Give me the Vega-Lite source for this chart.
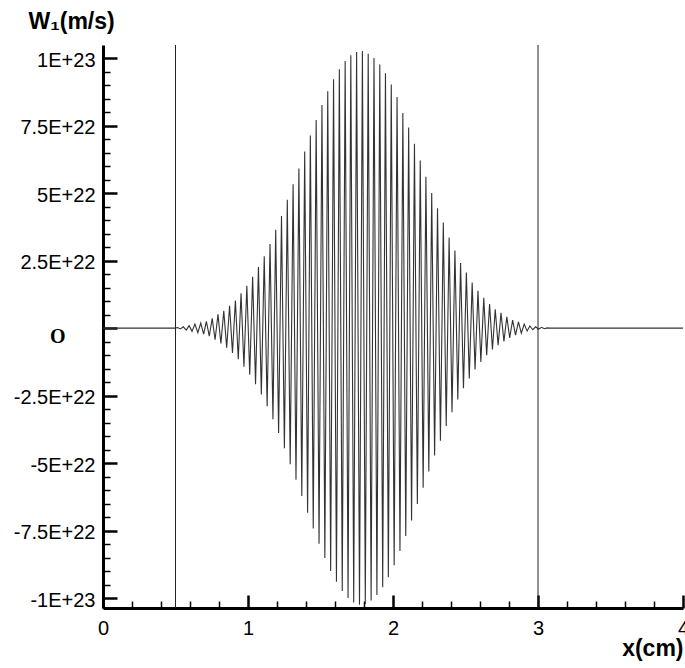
{
  "$schema": "https://vega.github.io/schema/vega-lite/v6.json",
  "autosize": "none",
  "width": 580,
  "height": 563,
  "padding": {"left": 103, "top": 45, "right": 2, "bottom": 60},
  "background": "white",
  "config": {"view": {"stroke": null}},
  "datasets": {
    "wave": [
      {"x":0,"w":0},{"x":0.5,"w":0},{"x":0.514,"w":2e20},{"x":0.534,"w":-3e20},
      {"x":0.554,"w":5e20},{"x":0.574,"w":-7e20},{"x":0.594,"w":9e20},{"x":0.614,"w":-1.2e21},
      {"x":0.634,"w":1.5e21},{"x":0.654,"w":-1.7e21},{"x":0.674,"w":1.9e21},{"x":0.694,"w":-2.2e21},
      {"x":0.713,"w":2.5e21},{"x":0.733,"w":-3.0e21},{"x":0.753,"w":3.6e21},{"x":0.773,"w":-4.3e21},
      {"x":0.793,"w":5.1e21},{"x":0.813,"w":-5.7e21},{"x":0.833,"w":6.4e21},{"x":0.853,"w":-7.3e21},
      {"x":0.873,"w":8.3e21},{"x":0.893,"w":-9.2e21},{"x":0.913,"w":1.02e22},{"x":0.933,"w":-1.15e22},
      {"x":0.952,"w":1.29e22},{"x":0.972,"w":-1.43e22},{"x":0.992,"w":1.57e22},{"x":1.012,"w":-1.73e22},
      {"x":1.032,"w":1.90e22},{"x":1.052,"w":-2.08e22},{"x":1.072,"w":2.26e22},{"x":1.092,"w":-2.46e22},
      {"x":1.112,"w":2.66e22},{"x":1.132,"w":-2.89e22},{"x":1.152,"w":3.12e22},{"x":1.172,"w":-3.38e22},
      {"x":1.191,"w":3.64e22},{"x":1.211,"w":-3.89e22},{"x":1.231,"w":4.15e22},{"x":1.251,"w":-4.45e22},
      {"x":1.271,"w":4.76e22},{"x":1.291,"w":-5.04e22},{"x":1.311,"w":5.33e22},{"x":1.331,"w":-5.62e22},
      {"x":1.351,"w":5.91e22},{"x":1.371,"w":-6.22e22},{"x":1.391,"w":6.54e22},{"x":1.411,"w":-6.84e22},
      {"x":1.430,"w":7.14e22},{"x":1.450,"w":-7.42e22},{"x":1.470,"w":7.71e22},{"x":1.490,"w":-7.99e22},
      {"x":1.510,"w":8.27e22},{"x":1.530,"w":-8.52e22},{"x":1.550,"w":8.78e22},{"x":1.570,"w":-9.00e22},
      {"x":1.590,"w":9.22e22},{"x":1.610,"w":-9.40e22},{"x":1.630,"w":9.59e22},{"x":1.650,"w":-9.74e22},
      {"x":1.670,"w":9.90e22},{"x":1.690,"w":-1.000e23},{"x":1.709,"w":1.011e23},{"x":1.729,"w":-1.017e23},
      {"x":1.749,"w":1.023e23},{"x":1.769,"w":-1.025e23},{"x":1.789,"w":1.027e23},{"x":1.809,"w":-1.022e23},
      {"x":1.829,"w":1.017e23},{"x":1.849,"w":-1.009e23},{"x":1.869,"w":1.001e23},{"x":1.889,"w":-9.89e22},
      {"x":1.909,"w":9.77e22},{"x":1.929,"w":-9.60e22},{"x":1.948,"w":9.44e22},{"x":1.968,"w":-9.23e22},
      {"x":1.988,"w":9.03e22},{"x":2.008,"w":-8.79e22},{"x":2.028,"w":8.56e22},{"x":2.048,"w":-8.26e22},
      {"x":2.068,"w":7.97e22},{"x":2.088,"w":-7.70e22},{"x":2.108,"w":7.43e22},{"x":2.128,"w":-7.13e22},
      {"x":2.148,"w":6.83e22},{"x":2.168,"w":-6.52e22},{"x":2.188,"w":6.21e22},{"x":2.208,"w":-5.91e22},
      {"x":2.227,"w":5.61e22},{"x":2.247,"w":-5.31e22},{"x":2.267,"w":5.01e22},{"x":2.287,"w":-4.72e22},
      {"x":2.307,"w":4.44e22},{"x":2.327,"w":-4.17e22},{"x":2.347,"w":3.91e22},{"x":2.367,"w":-3.63e22},
      {"x":2.387,"w":3.36e22},{"x":2.407,"w":-3.12e22},{"x":2.427,"w":2.88e22},{"x":2.447,"w":-2.64e22},
      {"x":2.466,"w":2.41e22},{"x":2.486,"w":-2.23e22},{"x":2.506,"w":2.06e22},{"x":2.526,"w":-1.87e22},
      {"x":2.546,"w":1.69e22},{"x":2.566,"w":-1.53e22},{"x":2.586,"w":1.38e22},{"x":2.606,"w":-1.25e22},
      {"x":2.626,"w":1.12e22},{"x":2.646,"w":-1.00e22},{"x":2.666,"w":8.9e21},{"x":2.686,"w":-7.9e21},
      {"x":2.705,"w":7.0e21},{"x":2.725,"w":-6.3e21},{"x":2.745,"w":5.7e21},{"x":2.765,"w":-4.9e21},
      {"x":2.785,"w":4.2e21},{"x":2.805,"w":-3.6e21},{"x":2.825,"w":3.0e21},{"x":2.845,"w":-2.6e21},
      {"x":2.865,"w":2.3e21},{"x":2.885,"w":-1.9e21},{"x":2.905,"w":1.5e21},{"x":2.925,"w":-1.1e21},
      {"x":2.944,"w":8e20},{"x":2.964,"w":-6e20},{"x":2.984,"w":5e20},{"x":3.004,"w":-4e20},
      {"x":3.024,"w":3e20},{"x":3.044,"w":-2e20},{"x":3.064,"w":1e20},{"x":3.08,"w":0},{"x":4,"w":0}
    ],
    "vlines": [{"x": 0.5}, {"x": 3}]
  },
  "resolve": {"axis": {"x": "independent", "y": "independent"}},
  "layer": [
    {
      "data": {"name": "wave"},
      "mark": {"type": "line", "color": "#333333", "strokeWidth": 1.1, "interpolate": "linear"},
      "encoding": {
        "x": {
          "field": "x", "type": "quantitative",
          "scale": {"domain": [0, 4], "nice": false, "zero": false},
          "axis": {
            "orient": "bottom",
            "values": [0, 1, 2, 3, 4],
            "grid": false,
            "domainColor": "black", "domainWidth": 3,
            "tickColor": "black", "tickWidth": 2.5, "tickSize": -13,
            "labelFont": "Liberation Sans", "labelFontSize": 20, "labelColor": "black",
            "labelPadding": 23, "labelFlush": false, "labelOverlap": false,
            "title": "x(cm)", "titleFont": "Liberation Sans", "titleFontWeight": "bold",
            "titleFontSize": 23, "titleColor": "black",
            "titleX": 580, "titleY": 47, "titleAlign": "right", "titleBaseline": "alphabetic", "titleAnchor": null
          }
        },
        "y": {
          "field": "w", "type": "quantitative",
          "scale": {"domain": [-1.037e23, 1.049e23], "nice": false, "zero": false},
          "axis": {
            "orient": "left",
            "values": [-1e23, -7.5e22, -5e22, -2.5e22, 0, 2.5e22, 5e22, 7.5e22, 1e23],
            "labelExpr": "datum.value == 0 ? 'O' : abs(datum.value) > 9.9e22 ? (datum.value < 0 ? '-1E+23' : '1E+23') : (round(datum.value / 1e21) / 10) + 'E+22'",
            "grid": false,
            "domainColor": "black", "domainWidth": 3,
            "tickColor": "black", "tickWidth": 2.5, "tickSize": -14,
            "labelFont": {"condition": {"test": "datum.value == 0", "value": "Liberation Serif"}, "value": "Liberation Sans"},
            "labelFontWeight": {"condition": {"test": "datum.value == 0", "value": "bold"}, "value": "normal"},
            "labelPadding": {"condition": {"test": "datum.value == 0", "value": 52}, "value": 22},
            "labelOffset": {"condition": {"test": "datum.value == 0", "value": 8}, "value": 2},
            "labelFontSize": 20, "labelColor": "black", "labelFlush": false, "labelOverlap": false,
            "title": "W₁(m/s)", "titleFont": "Liberation Sans", "titleFontWeight": "bold",
            "titleFontSize": 23, "titleColor": "black", "titleAngle": 0,
            "titleX": -75, "titleY": -17, "titleAlign": "left", "titleBaseline": "alphabetic", "titleAnchor": null
          }
        }
      }
    },
    {
      "mark": {"type": "rule", "color": "#333333", "strokeWidth": 1},
      "encoding": {
        "x": {
          "datum": 0, "type": "quantitative",
          "axis": {
            "orient": "bottom",
            "values": [0.2, 0.4, 0.6, 0.8, 1.2, 1.4, 1.6, 1.8, 2.2, 2.4, 2.6, 2.8, 3.2, 3.4, 3.6, 3.8],
            "grid": false, "domain": false, "labels": false, "title": null,
            "tickColor": "black", "tickWidth": 1.5, "tickSize": -7
          }
        },
        "x2": {"datum": 4},
        "y": {
          "datum": 0, "type": "quantitative",
          "axis": {
            "orient": "left",
            "values": [-9.5e22, -9e22, -8.5e22, -8e22, -7e22, -6.5e22, -6e22, -5.5e22, -4.5e22, -4e22, -3.5e22, -3e22, -2e22, -1.5e22, -1e22, -5e21, 5e21, 1e22, 1.5e22, 2e22, 3e22, 3.5e22, 4e22, 4.5e22, 5.5e22, 6e22, 6.5e22, 7e22, 8e22, 8.5e22, 9e22, 9.5e22],
            "grid": false, "domain": false, "labels": false, "title": null,
            "tickColor": "black", "tickWidth": 1.5, "tickSize": -7
          }
        }
      }
    },
    {
      "data": {"name": "vlines"},
      "mark": {"type": "rule", "color": "#222222", "strokeWidth": 1},
      "encoding": {
        "x": {"field": "x", "type": "quantitative", "axis": null}
      }
    }
  ]
}
